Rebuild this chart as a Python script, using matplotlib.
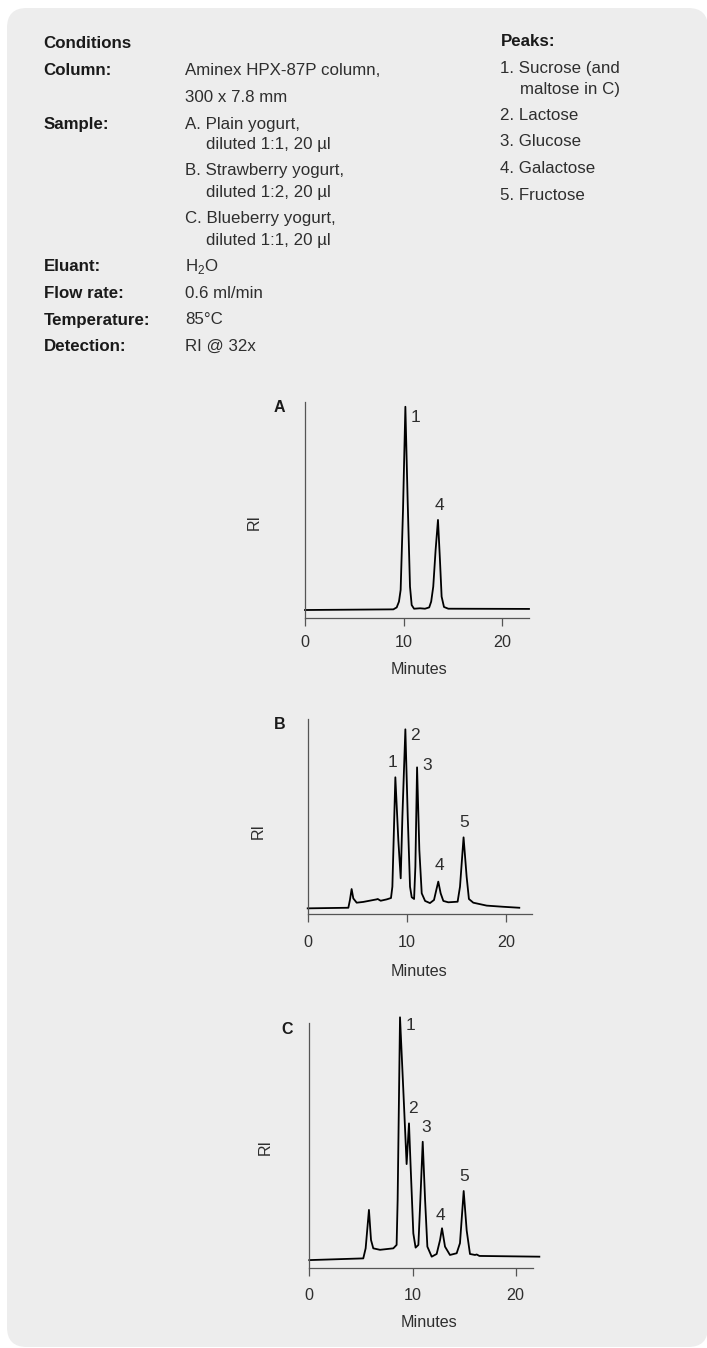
import matplotlib
matplotlib.use("Agg")
import matplotlib.pyplot as plt
from matplotlib.patches import FancyBboxPatch

plt.rcParams['font.family'] = ['Liberation Sans', 'DejaVu Sans']
plt.rcParams['mathtext.fontset'] = 'custom'
plt.rcParams['mathtext.rm'] = 'Liberation Sans'

W, H = 707, 1348

# ---------------- data ----------------
a_time = [0, 8.97, 9.31, 9.54, 9.71, 9.95, 10.19, 10.42, 10.66, 10.83, 11.07, 11.68, 12.18,
          12.61, 12.81, 13.02, 13.26, 13.5, 13.7, 13.87, 14.11, 14.55, 22.74]
a_signal = [3.7, 4.0, 4.9, 7.6, 13.0, 50.0, 97.8, 54.6, 14.5, 6.0, 4.3, 4.5, 4.3,
            4.9, 7.6, 14.5, 31.5, 45.4, 26.9, 9.9, 5.1, 4.3, 4.2]
a_peak_labels = ['1', '4']
a_peak_x = [11.17, 13.6]
a_peak_y = [93.0, 52.3]

b_time = [0, 4.1, 4.26, 4.43, 4.6, 4.94, 5.61, 6.95, 7.06, 7.36, 7.97, 8.4, 8.54, 8.84,
          9.14, 9.38, 9.55, 9.85, 10.09, 10.32, 10.49, 10.73, 10.86, 11.03, 11.26, 11.5,
          11.84, 12.33, 12.74, 12.97, 13.17, 13.41, 13.68, 14.18, 15.12, 15.36, 15.72,
          16.03, 16.26, 16.7, 18.05, 19.73, 21.34]
b_signal = [2.9, 3.2, 7.2, 12.8, 8.0, 5.8, 6.2, 7.5, 7.7, 6.8, 7.5, 8.2, 14.0, 70.1,
            37.9, 18.3, 49.9, 94.7, 49.9, 14.0, 8.6, 7.7, 24.3, 75.2, 32.8, 10.6,
            6.7, 5.6, 7.2, 12.3, 16.6, 10.6, 6.7, 6.0, 6.3, 14.0, 39.3,
            19.1, 7.7, 5.8, 4.3, 3.7, 3.2]
b_peak_labels = ['1', '2', '3', '4', '5']
b_peak_x = [8.53, 10.82, 12.0, 13.27, 15.76]
b_peak_y = [77.8, 91.3, 76.1, 25.1, 46.8]

c_time = [0, 5.23, 5.46, 5.78, 5.98, 6.2, 6.85, 8.14, 8.46, 8.56, 8.79, 9.11, 9.43, 9.66,
          9.82, 10.08, 10.3, 10.57, 10.76, 10.99, 11.22, 11.44, 11.86, 12.34, 12.67,
          12.86, 13.15, 13.63, 14.28, 14.6, 14.96, 15.25, 15.57, 16.06, 16.22, 16.48, 22.29]
c_signal = [3.1, 3.8, 7.9, 23.6, 11.3, 7.9, 7.3, 7.9, 9.3, 27.6, 102.2, 72.5, 42.3, 58.9,
            41.2, 14.0, 8.2, 9.3, 27.6, 51.4, 27.6, 8.6, 4.5, 5.6, 11.3,
            16.1, 8.6, 5.2, 5.9, 10.0, 31.3, 15.2, 5.6, 5.2, 5.4, 4.8, 4.5]
c_peak_labels = ['1', '2', '3', '4', '5']
c_peak_x = [9.85, 10.02, 11.31, 12.73, 14.99]
c_peak_y = [98.7, 65.1, 57.1, 21.5, 37.1]

x_ticks = [0, 10, 20]
x_tick_labels = ['0', '10', '20']

cond_labels = ['Column:', 'Sample:', 'Eluant:', 'Flow rate:', 'Temperature:', 'Detection:']
cond_label_y = [70.7, 124.0, 266.7, 293.3, 320.0, 346.7]
cond_values = [
    (185, 70.7, 'Aminex HPX-87P column,'),
    (185, 97.3, '300 x 7.8 mm'),
    (185, 124.0, 'A. Plain yogurt,'),
    (206.5, 145.0, 'diluted 1:1, 20 µl'),
    (185, 171.0, 'B. Strawberry yogurt,'),
    (206.5, 192.0, 'diluted 1:2, 20 µl'),
    (185, 218.5, 'C. Blueberry yogurt,'),
    (206.5, 240.0, 'diluted 1:1, 20 µl'),
    (185, 266.7, r'H$_\mathregular{2}$O'),
    (185, 293.3, '0.6 ml/min'),
    (185, 320.0, '85°C'),
    (185, 346.7, 'RI @ 32x'),
]
peak_list = [
    (500.5, 68.3, '1. Sucrose (and'),
    (519.8, 89.3, 'maltose in C)'),
    (500.5, 115.0, '2. Lactose'),
    (500.5, 141.7, '3. Glucose'),
    (500.5, 168.3, '4. Galactose'),
    (500.5, 195.7, '5. Fructose'),
]

# ---------------- figure ----------------
fig = plt.figure(figsize=(W / 100, H / 100), dpi=100)
fig.patch.set_facecolor('white')


def fx(x):
    return x / W


def fy(y):
    return 1 - y / H


panel = FancyBboxPatch((fx(7), fy(1347)), fx(708) - fx(7), fy(8) - fy(1347),
                       boxstyle="round,pad=0,rounding_size=0.028",
                       transform=fig.transFigure, facecolor='#ededed',
                       edgecolor='none', zorder=-10, mutation_aspect=W / H)
fig.patches.append(panel)

TXT = 12.2
dark = '#1a1a1a'
grey = '#2e2e2e'

fig.text(fx(43.7), fy(43.3), 'Conditions', fontsize=TXT, fontweight='bold',
         color=dark, va='center', ha='left')
for lab, yy in zip(cond_labels, cond_label_y):
    fig.text(fx(43.7), fy(yy), lab, fontsize=TXT, fontweight='bold', color=dark,
             va='center', ha='left')
for xx, yy, s in cond_values:
    fig.text(fx(xx), fy(yy), s, fontsize=TXT, color=grey, va='center', ha='left')
fig.text(fx(500.5), fy(41.7), 'Peaks:', fontsize=TXT, fontweight='bold', color=dark,
         va='center', ha='left')
for xx, yy, s in peak_list:
    fig.text(fx(xx), fy(yy), s, fontsize=TXT, color=grey, va='center', ha='left')


def chrom(x0, xr, y_axis, y_top, xmax, t, s, plabels, px, py,
          letter, letter_xy, ri_xy, ticklab_y, minutes_xy):
    ax = fig.add_axes([fx(x0), fy(y_axis), fx(xr) - fx(x0), (y_axis - y_top) / H])
    ax.set_facecolor('none')
    ax.set_zorder(2)
    ax.plot(t, s, color='black', lw=1.3, clip_on=False, solid_joinstyle='round')
    ax.set_xlim(0, xmax)
    ax.set_ylim(0, 100)
    for sp in ['top', 'right']:
        ax.spines[sp].set_visible(False)
    for sp in ['left', 'bottom']:
        ax.spines[sp].set_color('#555555')
        ax.spines[sp].set_linewidth(0.9)
    ax.set_yticks([])
    ax.set_xticks(x_ticks)
    ax.set_xticklabels([])
    ax.tick_params(axis='x', direction='out', length=6, width=0.9, color='#555555')
    for xt, lab in zip(x_ticks, x_tick_labels):
        xp = x0 + xt * (xr - x0) / xmax
        fig.text(fx(xp), fy(ticklab_y), lab, fontsize=11.6, color=grey,
                 ha='center', va='center')
    for lab, a, b in zip(plabels, px, py):
        ax.text(a, b, lab, fontsize=12.5, color=grey, ha='center', va='center',
                clip_on=False)
    fig.text(fx(letter_xy[0]), fy(letter_xy[1]), letter, fontsize=11.5,
             fontweight='bold', color=dark, ha='center', va='center')
    fig.text(fx(ri_xy[0]), fy(ri_xy[1]), 'RI', fontsize=11.5, color=grey,
             rotation=90, ha='center', va='center')
    fig.text(fx(minutes_xy[0]), fy(minutes_xy[1]), 'Minutes', fontsize=11.6,
             color=grey, ha='center', va='center')
    return ax


chrom(305, 529, 618, 402, (529 - 305) / 9.85, a_time, a_signal,
      a_peak_labels, a_peak_x, a_peak_y, 'A', (279, 408), (254, 522), 642, (419, 670))
chrom(307.7, 531.7, 914, 719, (531.7 - 307.7) / 9.915, b_time, b_signal,
      b_peak_labels, b_peak_x, b_peak_y, 'B', (280, 725), (258, 831), 942.7, (419, 971.7))
chrom(309.3, 533.3, 1267.7, 1022.7, (533.3 - 309.3) / 10.32, c_time, c_signal,
      c_peak_labels, c_peak_x, c_peak_y, 'C', (286.7, 1029.3), (265.7, 1146.7), 1295,
      (429, 1322.7))

fig.savefig('out.png', dpi=100, facecolor='white')
